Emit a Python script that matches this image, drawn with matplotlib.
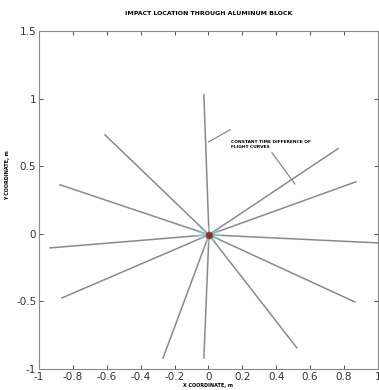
import matplotlib
matplotlib.use('Agg')
import matplotlib.pyplot as plt
import numpy as np

# ray end points, all rays start at the impact point
center_x = [0.003]
center_y = [-0.007]
end_x = [-0.027, -0.611, -0.876, -0.935, -0.864, -0.268, -0.027, 0.522, 0.864, 1.0, 0.870, 0.764]
end_y = [1.03, 0.733, 0.363, -0.104, -0.474, -0.919, -0.919, -0.844, -0.504, -0.067, 0.385, 0.630]
cyan_len = 0.07

x_ticks = [-1, -0.8, -0.6, -0.4, -0.2, 0, 0.2, 0.4, 0.6, 0.8, 1]
y_ticks = [-1, -0.5, 0, 0.5, 1, 1.5]

fig = plt.figure(figsize=(3.79, 3.90), dpi=100)
ax = fig.add_axes([0.103, 0.054, 0.894, 0.866])

cx, cy = center_x[0], center_y[0]
for ex, ey in zip(end_x, end_y):
    ax.plot([cx, ex], [cy, ey], color='#8a8a8a', linewidth=1.1, zorder=2)
    d = np.hypot(ex - cx, ey - cy)
    ux, uy = (ex - cx) / d, (ey - cy) / d
    ax.plot([cx, cx + ux * cyan_len], [cy, cy + uy * cyan_len * 0.8],
            color='#8fd3e0', linewidth=0.9, alpha=0.8, zorder=3)

ax.plot(center_x, center_y, 'o', markersize=5, markerfacecolor='#7a3a2a',
        markeredgecolor='#c04040', markeredgewidth=0.6, zorder=4)

# annotation
ax.text(0.135, 0.66, 'CONSTANT TIME DIFFERENCE OF\nFLIGHT CURVES', fontsize=3.2,
        fontweight='bold', va='center', ha='left', linespacing=1.4)
ax.plot([0.0, 0.127], [0.68, 0.77], color='#8a8a8a', linewidth=0.9)
ax.plot([0.375, 0.51], [0.60, 0.37], color='#8a8a8a', linewidth=0.9)

ax.set_xlim(-1, 1)
ax.set_ylim(-1, 1.5)
ax.set_xticks(x_ticks)
ax.set_xticklabels(['-1', '-0.8', '-0.6', '-0.4', '-0.2', '0', '0.2', '0.4', '0.6', '0.8', '1'])
ax.set_yticks(y_ticks)
ax.set_yticklabels(['-1', '-0.5', '0', '0.5', '1', '1.5'])
ax.tick_params(direction='in', length=3, width=0.6, labelsize=7.5, colors='#333333',
               top=True, right=True, pad=2)
for s in ax.spines.values():
    s.set_color('#888888')
    s.set_linewidth(0.8)

ax.set_title('IMPACT LOCATION THROUGH ALUMINUM BLOCK', fontsize=4.5, fontweight='bold', pad=12)
ax.set_xlabel('X COORDINATE, m', fontsize=3.5, fontweight='bold', labelpad=1)
ax.set_ylabel('Y COORDINATE, m', fontsize=3.5, fontweight='bold')
ax.yaxis.set_label_coords(-0.085, 0.574)

fig.savefig('out.png', dpi=100)
